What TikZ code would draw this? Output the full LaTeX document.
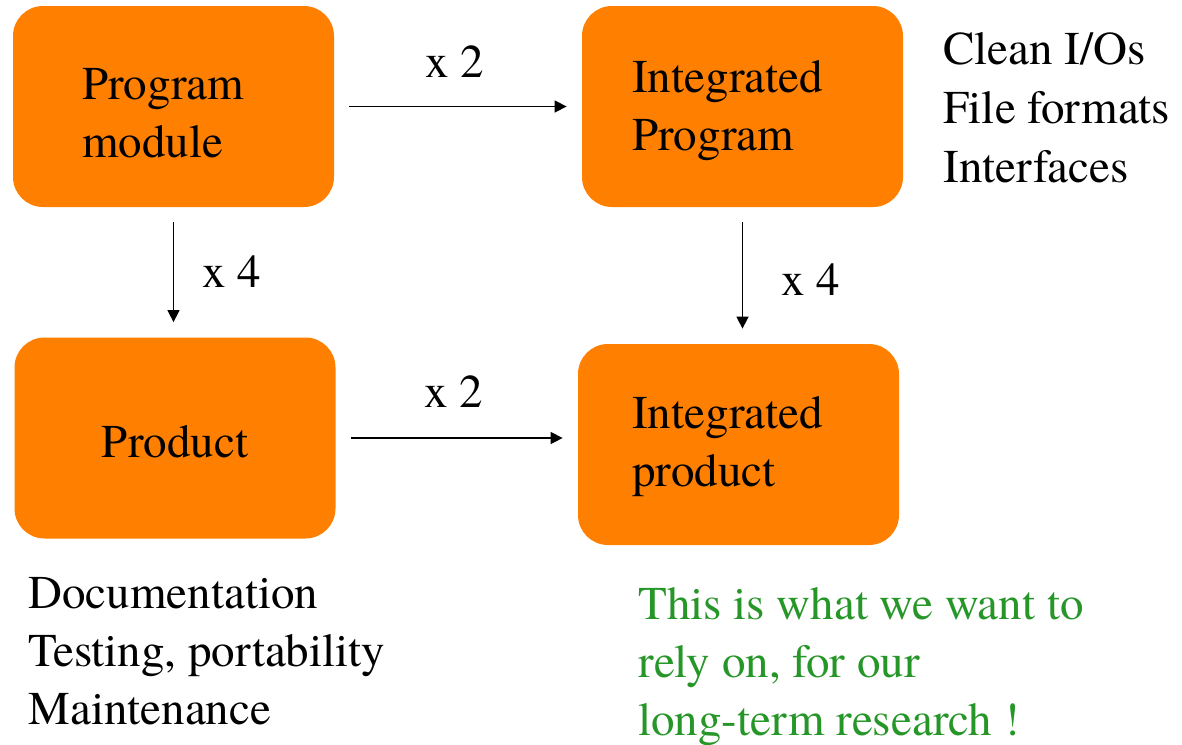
\documentclass[tikz,border=0pt]{standalone}
\usepackage{fontspec}
\setmainfont{texgyretermes}[Extension=.otf, UprightFont=*-regular,
  BoldFont=*-bold, ItalicFont=*-italic, BoldItalicFont=*-bolditalic]
\usetikzlibrary{arrows.meta}
\definecolor{boxorange}{RGB}{255,128,0}
\definecolor{notegreen}{RGB}{38,150,40}

\begin{document}
\begin{tikzpicture}[x=0.5pt,y=-0.5pt,
    every node/.style={font=\fontsize{23.5pt}{29pt}\selectfont},
    stage/.style={fill=boxorange, rounded corners=15pt, minimum width=160.5pt,
      minimum height=100.5pt, align=left},
    flow/.style={-{Triangle[length=6pt,width=6pt]}, line width=0.75pt,
      shorten <=7.5pt, shorten >=7.5pt},
    note/.style={align=left, anchor=north west, inner sep=0pt}]
  \useasboundingbox (0,0) rectangle (1182,744);
  % the four stages
  \node[stage, inner xsep=34.5pt, text width=91.5pt, text height=22.5pt]
    (module) at (173.5,106.5) {Program\\module};
  \node[stage, inner xsep=25pt, text width=110.5pt, text height=20.5pt]
    (intprog) at (742.5,106.5) {Integrated\\Program};
  \node[stage, text width=110pt, align=center, text height=20pt]
    (product) at (175,438) {Product};
  \node[stage, inner xsep=27pt, text width=106.5pt, text height=18.5pt]
    (intprod) at (738.5,444.5) {Integrated\\product};
  % effort factors
  \draw[flow] (module) -- (intprog);
  \draw[flow] (module.south) -- (module.south |- product.north);
  \draw[flow] (intprog.south) -- (intprog.south |- intprod.north);
  \draw[flow] (product) -- (product -| intprod.west);
  \node (twotop) at (455,62) {x 2};
  \node (fourleft) at (232,272) {x 4};
  \node (fourright) at (811,280) {x 4};
  \node (twobot) at (454,392) {x 2};
  % side notes
  \node[note, font=\fontsize{23.5pt}{29.5pt}\selectfont] (ionote) at (943,32)
    {Clean I/Os\\File formats\\Interfaces};
  \node[note] (docnote) at (28,577) {Documentation\\Testing, portability\\Maintenance};
  \node[note, text=notegreen] (relynote) at (638,587)
    {This is what we want to\\rely on, for our\\long-term research !};
\end{tikzpicture}
\end{document}
